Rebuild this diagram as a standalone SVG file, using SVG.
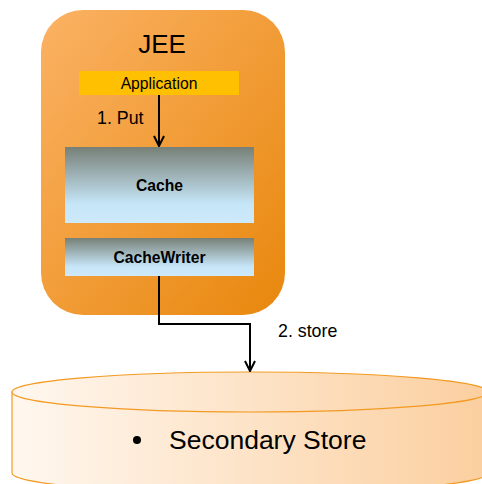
<svg xmlns="http://www.w3.org/2000/svg" width="482" height="484" viewBox="0 0 482 484">
  <defs>
    <linearGradient id="jeeFill" x1="0" y1="0" x2="1" y2="1">
      <stop offset="0" stop-color="#fbb264"/>
      <stop offset="1" stop-color="#e8870c"/>
    </linearGradient>
    <linearGradient id="cacheFill" x1="0" y1="0" x2="0" y2="1">
      <stop offset="0" stop-color="#778077"/>
      <stop offset="0.75" stop-color="#c6e6f8"/>
      <stop offset="1" stop-color="#cde9fa"/>
    </linearGradient>
    <linearGradient id="storeFill" x1="0" y1="0" x2="1" y2="0">
      <stop offset="0" stop-color="#fff7ef"/>
      <stop offset="1" stop-color="#fbcf9f"/>
    </linearGradient>
    <marker id="openArrow" viewBox="0 0 12 12" refX="11" refY="6" markerWidth="12" markerHeight="12" markerUnits="userSpaceOnUse" orient="auto">
      <path d="M1,1 L11,6 L1,11" fill="none" stroke="#000" stroke-width="2"/>
    </marker>
    <style>
      .label { font-family: "Liberation Sans", Arial, sans-serif; fill: #000; }
      .bold { font-weight: bold; }
      .conn { fill: none; stroke: #000; stroke-width: 2; }
    </style>
  </defs>

  <g id="jee">
    <rect x="41" y="10" width="244" height="305" rx="42" ry="42" fill="url(#jeeFill)"/>
    <text class="label" x="162" y="53" font-size="26" text-anchor="middle">JEE</text>
  </g>

  <g id="application">
    <rect x="79" y="71" width="160" height="24" fill="#fec000"/>
    <text class="label" x="159" y="89" font-size="15.7" text-anchor="middle">Application</text>
  </g>

  <g id="cache">
    <rect x="65" y="147" width="189" height="76" fill="url(#cacheFill)"/>
    <text class="label bold" x="159.5" y="191" font-size="15.7" text-anchor="middle">Cache</text>
  </g>

  <g id="cachewriter">
    <rect x="65" y="238" width="189" height="38" fill="url(#cacheFill)"/>
    <text class="label bold" x="159.5" y="263" font-size="15.7" text-anchor="middle">CacheWriter</text>
  </g>

  <g id="secondary-store">
    <path d="M12,392 L12,473 A238,20 0 0 0 488,473 L488,392 Z" fill="url(#storeFill)" stroke="#f29a22" stroke-width="1.2"/>
    <ellipse cx="250" cy="392" rx="238" ry="20" fill="url(#storeFill)" stroke="#f29a22" stroke-width="1.2"/>
    <circle cx="137" cy="440" r="4" fill="#000"/>
    <text class="label" x="169" y="449" font-size="26.5">Secondary Store</text>
  </g>

  <g id="connectors">
    <line class="conn" x1="159" y1="95" x2="159" y2="146" marker-end="url(#openArrow)"/>
    <text class="label" x="97" y="124" font-size="17.8">1. Put</text>
    <polyline class="conn" points="159,276 159,324 250,324 250,371" marker-end="url(#openArrow)"/>
    <text class="label" x="278" y="337" font-size="17.8">2. store</text>
  </g>
</svg>
